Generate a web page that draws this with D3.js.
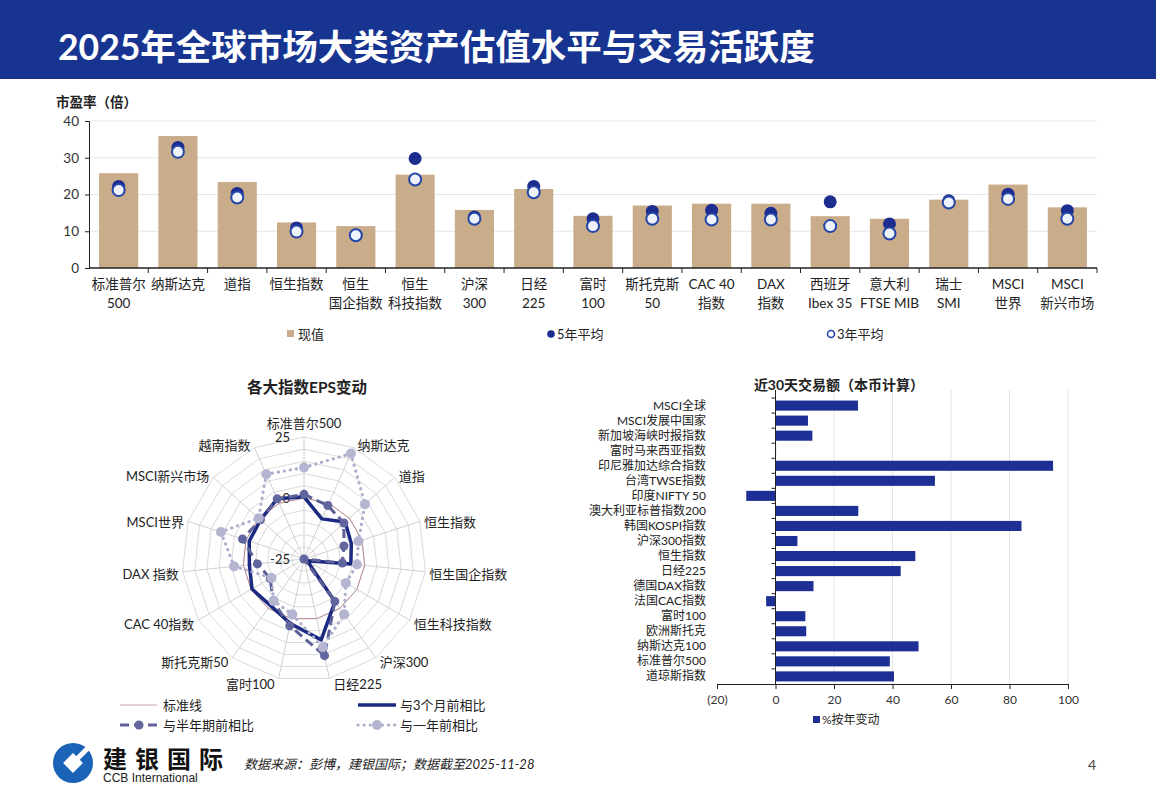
<!DOCTYPE html>
<html>
<head>
<meta charset="utf-8">
<script src="https://cdn.jsdelivr.net/npm/d3@7"></script>
<style>
body { margin: 0; background: #fff; }
text { font-family: Lato, "Noto Sans CJK SC", sans-serif; fill: #222; }
</style>
</head>
<body>
<script>
// ---- data ----
const peCats = ["标准普尔\n500", "纳斯达克", "道指", "恒生指数", "恒生\n国企指数", "恒生\n科技指数", "沪深\n300", "日经\n225",
    "富时\n100", "斯托克斯\n50", "CAC 40\n指数", "DAX\n指数", "西班牙\nIbex 35", "意大利\nFTSE MIB", "瑞士\nSMI", "MSCI\n世界", "MSCI\n新兴市场"];
const peNow = [25.8, 35.9, 23.4, 12.4, 11.4, 25.4, 15.8, 21.5, 14.2, 17.0, 17.5, 17.5, 14.1, 13.4, 18.6, 22.7, 16.5];
const pe5y  = [22.2, 32.8, 20.3, 10.9, 9.0, 29.8, 13.9, 22.2, 13.4, 15.4, 15.7, 14.9, 18.0, 12.0, 18.3, 20.1, 15.6];
const pe3y  = [21.2, 31.6, 19.2, 9.9, 8.9, 24.1, 13.4, 20.6, 11.4, 13.4, 13.2, 13.2, 11.4, 9.4, 17.8, 18.8, 13.4];
const peTicks = [0, 10, 20, 30, 40];

const epsAxes = ["标准普尔500", "纳斯达克", "道指", "恒生指数", "恒生国企指数", "恒生科技指数", "沪深300", "日经225",
    "富时100", "斯托克斯50", "CAC 40指数", "DAX 指数", "MSCI世界", "MSCI新兴市场", "越南指数"];
const epsBase = [0, 0, 0, 0, 0, 0, 0, 0, 0, 0, 0, 0, 0, 0, 0];
const eps3m = [0.5, -7.0, -2.3, -4.6, -5.7, -23.5, -3.4, 8.9, 2.0, -1.5, -0.4, -2.5, -1.4, -1.0, 2.0];
const eps6m = [1.5, -1.0, -3.0, -7.8, -9.2, -25.0, -3.5, 15.5, 3.0, -3.5, -9.0, -5.8, 1.5, -1.0, 2.0];
const eps1y = [12.5, 22.3, 8.6, -1.5, -3.2, -5.2, 3.0, 12.0, -1.8, -3.8, -9.6, 3.8, 10.8, 0.0, 13.0];
const epsTicks = [25, 0, -25];
const epsRings = [-20, -15, -10, -5, 0, 5, 10, 15, 20, 25];

const tvCats = ["MSCI全球", "MSCI发展中国家", "新加坡海峡时报指数", "富时马来西亚指数", "印尼雅加达综合指数", "台湾TWSE指数",
    "印度NIFTY 50", "澳大利亚标普指数200", "韩国KOSPI指数", "沪深300指数", "恒生指数", "日经225", "德国DAX指数",
    "法国CAC指数", "富时100", "欧洲斯托克", "纳斯达克100", "标准普尔500", "道琼斯指数"];
const tvChg = [28.2, 11.1, 12.6, 0.2, 94.9, 54.5, -10.0, 28.3, 84.1, 7.5, 47.8, 42.8, 13.0, -3.2, 10.2, 10.5, 48.9, 39.1, 40.5];
const tvTicks = [-20, 0, 20, 40, 60, 80, 100];

// ---- canvas ----
const W = 1156, H = 800;
const svg = d3.select("body").append("svg")
    .attr("width", W)
    .attr("height", H);

const headBlue = "#173491", tan = "#c9ac89", navy = "#1c2d8f";

// header band
svg.append("rect")
    .attr("x", 0).attr("y", 0)
    .attr("width", W).attr("height", 79)
    .attr("fill", headBlue);
svg.append("text")
    .attr("x", 58).attr("y", 60)
    .attr("font-size", "35.5px")
    .attr("font-weight", "bold")
    .style("fill", "#fff")
    .text("2025年全球市场大类资产估值水平与交易活跃度");

// ================= P/E bar chart =================
const pe = {left: 89, right: 1097, top: 121, bottom: 268};
const xPe = d3.scaleBand()
    .domain(d3.range(peCats.length))
    .range([pe.left, pe.right])
    .paddingInner(0.34)
    .paddingOuter(0.17);
const yPe = d3.scaleLinear().domain([0, 40]).range([pe.bottom, pe.top]);
const gPe = svg.append("g");

svg.append("text")
    .attr("x", 56).attr("y", 107)
    .attr("font-size", "13.5px")
    .attr("font-weight", "bold")
    .text("市盈率（倍）");

// gridlines
gPe.append("g").selectAll("line")
    .data(peTicks.filter(d => d > 0))
    .join("line")
    .attr("x1", pe.left).attr("x2", pe.right)
    .attr("y1", d => yPe(d)).attr("y2", d => yPe(d))
    .attr("stroke", "#e6e6e6");

// bars
gPe.append("g").selectAll("rect")
    .data(peNow)
    .join("rect")
    .attr("x", (d, i) => xPe(i))
    .attr("y", d => yPe(d))
    .attr("width", xPe.bandwidth())
    .attr("height", d => yPe(0) - yPe(d))
    .attr("fill", tan);

// y axis
const yAxPe = gPe.append("g")
    .attr("transform", "translate(" + pe.left + ",0)")
    .call(d3.axisLeft(yPe).tickValues(peTicks).tickSize(4).tickPadding(6));
yAxPe.selectAll("text").attr("font-size", "13.5px").style("fill", "#333");
yAxPe.selectAll("line, path").attr("stroke", "#222");

// x axis line + boundary ticks
const gap = (xPe.step() - xPe.bandwidth()) / 2;
gPe.append("line")
    .attr("x1", pe.left).attr("x2", pe.right)
    .attr("y1", pe.bottom).attr("y2", pe.bottom)
    .attr("stroke", "#222").attr("stroke-width", 1.5);
gPe.append("g").selectAll("line")
    .data(d3.range(peCats.length))
    .join("line")
    .attr("x1", i => xPe(i) + xPe.bandwidth() + gap)
    .attr("x2", i => xPe(i) + xPe.bandwidth() + gap)
    .attr("y1", pe.bottom).attr("y2", pe.bottom + 5)
    .attr("stroke", "#222");

// category labels
const peLab = gPe.append("g").selectAll("text")
    .data(peCats)
    .join("text")
    .attr("x", (d, i) => xPe(i) + xPe.bandwidth() / 2)
    .attr("y", 289)
    .attr("text-anchor", "middle")
    .attr("font-size", "13.5px");
peLab.selectAll("tspan")
    .data(d => d.split("\n"))
    .join("tspan")
    .attr("x", function () { return d3.select(this.parentNode).attr("x"); })
    .attr("dy", (d, i) => i === 0 ? 0 : 19)
    .text(d => d);

// average dots
gPe.append("g").selectAll("circle")
    .data(pe5y)
    .join("circle")
    .attr("cx", (d, i) => xPe(i) + xPe.bandwidth() / 2)
    .attr("cy", d => yPe(d))
    .attr("r", 6.5)
    .attr("fill", navy);
gPe.append("g").selectAll("circle")
    .data(pe3y)
    .join("circle")
    .attr("cx", (d, i) => xPe(i) + xPe.bandwidth() / 2)
    .attr("cy", d => yPe(d))
    .attr("r", 6)
    .attr("fill", "#eef2fa")
    .attr("stroke", "#2446a8")
    .attr("stroke-width", 2);

// legend
const lgPe = svg.append("g");
lgPe.append("rect").attr("x", 287).attr("y", 330).attr("width", 7).attr("height", 7).attr("fill", tan);
lgPe.append("text").attr("x", 298).attr("y", 339).attr("font-size", "13px").text("现值");
lgPe.append("circle").attr("cx", 551).attr("cy", 334).attr("r", 3.8).attr("fill", navy);
lgPe.append("text").attr("x", 557).attr("y", 339).attr("font-size", "13px").text("5年平均");
lgPe.append("circle").attr("cx", 831).attr("cy", 334).attr("r", 3.5)
    .attr("fill", "#fff").attr("stroke", "#2446a8").attr("stroke-width", 1.6);
lgPe.append("text").attr("x", 837).attr("y", 339).attr("font-size", "13px").text("3年平均");

// ================= EPS radar =================
const rc = {x: 304, y: 559, R: 122};
const rEps = d3.scaleLinear().domain([-25, 25]).range([0, rc.R]);
const aEps = d3.scaleLinear().domain([0, epsAxes.length]).range([0, 2 * Math.PI]);
const radial = d3.lineRadial()
    .angle((d, i) => aEps(i))
    .radius(d => rEps(d))
    .curve(d3.curveLinearClosed);
const gR = svg.append("g").attr("transform", "translate(" + rc.x + "," + rc.y + ")");

svg.append("text")
    .attr("x", 307).attr("y", 393)
    .attr("text-anchor", "middle")
    .attr("font-size", "15.5px")
    .attr("font-weight", "bold")
    .text("各大指数EPS变动");

// rings and spokes
gR.append("g").selectAll("path")
    .data(epsRings)
    .join("path")
    .attr("d", v => radial(epsAxes.map(() => v)))
    .attr("fill", "none")
    .attr("stroke", "#dadada");
gR.append("g").selectAll("line")
    .data(epsAxes)
    .join("line")
    .attr("x1", 0).attr("y1", 0)
    .attr("x2", (d, i) => rEps(25) * Math.sin(aEps(i)))
    .attr("y2", (d, i) => -rEps(25) * Math.cos(aEps(i)))
    .attr("stroke", "#d0d0d0");

// axis labels
gR.append("g").selectAll("text")
    .data(epsAxes)
    .join("text")
    .attr("x", (d, i) => {
        const s = Math.sin(aEps(i)), ex = rEps(25) * s;
        return Math.abs(s) < 0.05 ? ex : ex + (s > 0 ? 4 : -4);
    })
    .attr("y", (d, i) => {
        const s = Math.sin(aEps(i)), c = Math.cos(aEps(i)), ey = -rEps(25) * c;
        return Math.abs(s) < 0.05 ? ey - 9 : ey + 6.5 - c * 4;
    })
    .attr("text-anchor", (d, i) => {
        const s = Math.sin(aEps(i));
        return Math.abs(s) < 0.05 ? "middle" : (s > 0 ? "start" : "end");
    })
    .attr("font-size", "13px")
    .text(d => d);

// radial tick labels
gR.append("g").selectAll("text")
    .data(epsTicks)
    .join("text")
    .attr("x", -14)
    .attr("y", d => -rEps(d) + 5)
    .attr("text-anchor", "end")
    .attr("font-size", "13px")
    .text(d => d);

function pt(v, i) {
    return [rEps(v) * Math.sin(aEps(i)), -rEps(v) * Math.cos(aEps(i))];
}

// series
gR.append("path")
    .attr("d", radial(epsBase))
    .attr("fill", "none")
    .attr("stroke", "#b98c8c")
    .attr("stroke-width", 1);
gR.append("path")
    .attr("d", radial(eps3m))
    .attr("fill", "none")
    .attr("stroke", "#1b2a80")
    .attr("stroke-width", 3.5)
    .attr("stroke-linejoin", "round");
gR.append("path")
    .attr("d", radial(eps6m))
    .attr("fill", "none")
    .attr("stroke", "#5d6099")
    .attr("stroke-width", 3)
    .attr("stroke-dasharray", "9,5");
gR.append("g").selectAll("circle")
    .data(eps6m)
    .join("circle")
    .attr("cx", (d, i) => pt(d, i)[0])
    .attr("cy", (d, i) => pt(d, i)[1])
    .attr("r", 4.5)
    .attr("fill", "#62669f");
gR.append("path")
    .attr("d", radial(eps1y))
    .attr("fill", "none")
    .attr("stroke", "#acaecb")
    .attr("stroke-width", 3.2)
    .attr("stroke-linecap", "round")
    .attr("stroke-dasharray", "0.1,6");
gR.append("g").selectAll("circle")
    .data(eps1y)
    .join("circle")
    .attr("cx", (d, i) => pt(d, i)[0])
    .attr("cy", (d, i) => pt(d, i)[1])
    .attr("r", 5)
    .attr("fill", "#b4b6d1");

// radar legend
const lgR = svg.append("g");
lgR.append("line").attr("x1", 120).attr("x2", 157).attr("y1", 705).attr("y2", 705)
    .attr("stroke", "#c9a7a7").attr("stroke-width", 1);
lgR.append("text").attr("x", 163).attr("y", 710).attr("font-size", "13px").text("标准线");
lgR.append("line").attr("x1", 358).attr("x2", 396).attr("y1", 705).attr("y2", 705)
    .attr("stroke", "#1b2a80").attr("stroke-width", 3.5);
lgR.append("text").attr("x", 400).attr("y", 710).attr("font-size", "13px").text("与3个月前相比");
lgR.append("line").attr("x1", 120).attr("x2", 157).attr("y1", 725).attr("y2", 725)
    .attr("stroke", "#5d6099").attr("stroke-width", 3).attr("stroke-dasharray", "9,5");
lgR.append("circle").attr("cx", 139).attr("cy", 725).attr("r", 4.5).attr("fill", "#62669f");
lgR.append("text").attr("x", 163).attr("y", 730).attr("font-size", "13px").text("与半年期前相比");
lgR.append("line").attr("x1", 358).attr("x2", 396).attr("y1", 725).attr("y2", 725)
    .attr("stroke", "#acaecb").attr("stroke-width", 3.2)
    .attr("stroke-linecap", "round").attr("stroke-dasharray", "0.1,6");
lgR.append("circle").attr("cx", 377).attr("cy", 725).attr("r", 5).attr("fill", "#b4b6d1");
lgR.append("text").attr("x", 400).attr("y", 730).attr("font-size", "13px").text("与一年前相比");

// ================= turnover bar chart =================
const tv = {left: 717, right: 1068, top: 398, bottom: 684};
const xTv = d3.scaleLinear().domain([-20, 100]).range([tv.left, tv.right]);
const yTv = d3.scaleBand()
    .domain(tvCats)
    .range([tv.top, tv.bottom])
    .paddingInner(0.33)
    .paddingOuter(0.17);
const gTv = svg.append("g");

svg.append("text")
    .attr("x", 839).attr("y", 390)
    .attr("text-anchor", "middle")
    .attr("font-size", "14px")
    .attr("font-weight", "bold")
    .text("近30天交易额（本币计算）");

// vertical gridlines
gTv.append("g").selectAll("line")
    .data(tvTicks.filter(d => d > 0))
    .join("line")
    .attr("x1", d => xTv(d)).attr("x2", d => xTv(d))
    .attr("y1", tv.top - 8).attr("y2", tv.bottom)
    .attr("stroke", "#e4e4e4");

// bars
gTv.append("g").selectAll("rect")
    .data(tvChg)
    .join("rect")
    .attr("x", d => xTv(Math.min(0, d)))
    .attr("y", (d, i) => yTv(tvCats[i]))
    .attr("width", d => Math.abs(xTv(d) - xTv(0)))
    .attr("height", yTv.bandwidth())
    .attr("fill", "#1d2f94");

// x axis
const xAxTv = gTv.append("g")
    .attr("transform", "translate(0," + tv.bottom + ")")
    .call(d3.axisBottom(xTv).tickValues(tvTicks).tickSize(5).tickPadding(6)
        .tickFormat(d => d < 0 ? "(" + (-d) + ")" : d));
xAxTv.selectAll("text").attr("font-size", "12px").style("fill", "#333");
xAxTv.selectAll("line, path").attr("stroke", "#222");

// y axis at zero with band ticks
const tvGap = (yTv.step() - yTv.bandwidth()) / 2;
gTv.append("line")
    .attr("x1", xTv(0)).attr("x2", xTv(0))
    .attr("y1", tv.top - 8).attr("y2", tv.bottom)
    .attr("stroke", "#222");
gTv.append("g").selectAll("line")
    .data(tvCats)
    .join("line")
    .attr("x1", xTv(0) - 4).attr("x2", xTv(0))
    .attr("y1", d => yTv(d) - tvGap).attr("y2", d => yTv(d) - tvGap)
    .attr("stroke", "#222");

// category labels
gTv.append("g").selectAll("text")
    .data(tvCats)
    .join("text")
    .attr("x", 706)
    .attr("y", d => yTv(d) + yTv.bandwidth() / 2 + 4)
    .attr("text-anchor", "end")
    .attr("font-size", "12px")
    .text(d => d);

// legend
svg.append("rect").attr("x", 813).attr("y", 716).attr("width", 7).attr("height", 7).attr("fill", "#1d2f94");
svg.append("text").attr("x", 822).attr("y", 724).attr("font-size", "12px").text("%按年变动");

// ================= footer =================
const logo = svg.append("g").attr("transform", "translate(73,763)");
logo.append("circle").attr("r", 20).attr("fill", "#1b63b6");
logo.append("rect").attr("x", -7).attr("y", -7).attr("width", 14).attr("height", 14)
    .attr("transform", "rotate(45)").attr("fill", "#fff");
logo.append("rect").attr("x", -2.5).attr("y", -24).attr("width", 5).attr("height", 18)
    .attr("transform", "rotate(45)").attr("fill", "#fff");

svg.append("text")
    .attr("x", 103).attr("y", 768)
    .attr("font-size", "24px")
    .attr("font-weight", "bold")
    .attr("letter-spacing", "8px")
    .style("fill", "#111")
    .text("建银国际");
svg.append("text")
    .attr("x", 103).attr("y", 782)
    .attr("font-size", "12px")
    .style("font-family", "'Liberation Sans', sans-serif")
    .style("fill", "#222")
    .text("CCB International");
svg.append("text")
    .attr("x", 244).attr("y", 769)
    .attr("font-size", "13px")
    .attr("font-style", "italic")
    .style("fill", "#222")
    .text("数据来源：彭博，建银国际；数据截至2025-11-28");
svg.append("text")
    .attr("x", 1088).attr("y", 770)
    .attr("font-size", "14px")
    .style("fill", "#444")
    .text("4");
</script>
</body>
</html>
